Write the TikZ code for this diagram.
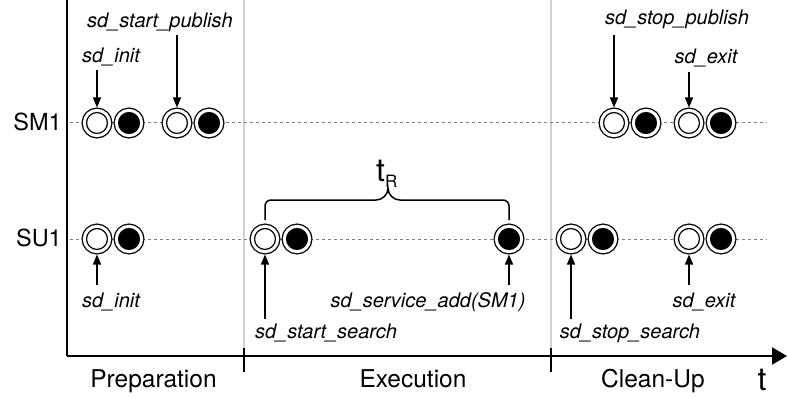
\documentclass[tikz,border=0pt]{standalone}
\usepackage{fontspec}
\setmainfont{TeX Gyre Heros}
\usetikzlibrary{arrows.meta}
\tikzset{
  evt/.style={circle, minimum size=25.4pt, inner sep=0pt, outer sep=2.8pt,
    draw=black, line width=1.3pt, double=white, double distance=3pt},
  evtopen/.style={evt, fill=white},
  evtfull/.style={evt, fill=black},
  rowline/.style={draw=black!50, line width=1pt, dash pattern=on 3pt off 3pt},
  sep/.style={draw=black!18, line width=1.5pt},
  axis/.style={draw=black, line width=2pt},
  tick/.style={draw=black, line width=1.3pt},
  call/.style={draw=black, line width=1.4pt, -{Triangle[length=10pt,width=8pt]}},
  fn/.style={font=\fontsize{20}{22}\selectfont\itshape, inner sep=0pt},
  lane/.style={font=\fontsize{23.5}{26}\selectfont, inner sep=0pt, anchor=east},
  phase/.style={font=\fontsize{24.5}{27}\selectfont, inner sep=0pt, anchor=base},
  brace/.style={draw=black, line width=1.5pt}
}
\begin{document}
\begin{tikzpicture}[x=1pt,y=1pt]
\useasboundingbox (0,0) rectangle (787,397);

% phase separators
\draw[sep] (244,397) -- (244,41);
\draw[sep] (551,397) -- (551,41);

% lane guide lines
\draw[rowline] (70,274) -- (767,274);
\draw[rowline] (70,158) -- (767,158);

% axes
\coordinate (origin) at (67,41);
\coordinate (ytop) at (67,397);
\coordinate (xend) at (787,41);
\draw[axis] (ytop) -- (origin);
\draw[axis, -{Triangle[length=15pt,width=17pt]}] (origin) -- (xend);
\draw[tick] (244,49) -- (244,25);
\draw[tick] (551,49) -- (551,25);

% lane labels
\node[lane] (sm) at (62,275) {SM1};
\node[lane] (su) at (62,159) {SU1};

% phase labels
\node[phase] (prep) at (153.5,10) {Preparation};
\node[phase] (exec) at (413,10) {Execution};
\node[phase] (clean) at (653,10) {Clean-Up};
\node[font=\fontsize{32}{34}\selectfont, inner sep=0pt, anchor=base] (tlab) at (762,7) {t};

% SM1 events
\node[evtopen] (m1o) at (97,274) {};
\node[evtfull] (m1f) at (129,274) {};
\node[evtopen] (m2o) at (177,274) {};
\node[evtfull] (m2f) at (209,274) {};
\node[evtopen] (m3o) at (614,274) {};
\node[evtfull] (m3f) at (646,274) {};
\node[evtopen] (m4o) at (689,274) {};
\node[evtfull] (m4f) at (721,274) {};

% SU1 events
\node[evtopen] (u1o) at (97,158) {};
\node[evtfull] (u1f) at (129,158) {};
\node[evtopen] (u2o) at (265,158) {};
\node[evtfull] (u2f) at (297,158) {};
\node[evtfull] (u3f) at (509,158) {};
\node[evtopen] (u4o) at (571,158) {};
\node[evtfull] (u4f) at (603,158) {};
\node[evtopen] (u5o) at (689,158) {};
\node[evtfull] (u5f) at (721,158) {};

% SM1 calls
\node[fn] (l1) at (111,340) {sd\_init};
\coordinate (a1) at (97,327);
\draw[call] (a1) -- (m1o.north);
\node[fn] (l2) at (160,375) {sd\_start\_publish};
\coordinate (a2) at (177,362);
\draw[call] (a2) -- (m2o.north);
\node[fn] (l3) at (677,378) {sd\_stop\_publish};
\coordinate (a3) at (614,362);
\draw[call] (a3) -- (m3o.north);
\node[fn] (l4) at (706,339) {sd\_exit};
\coordinate (a4) at (689,325);
\draw[call] (a4) -- (m4o.north);

% SU1 calls
\node[fn] (l5) at (111,95) {sd\_init};
\coordinate (a5) at (97,112);
\draw[call] (a5) -- (u1o.south);
\node[fn] (l6) at (326,64) {sd\_start\_search};
\coordinate (a6) at (265,78);
\draw[call] (a6) -- (u2o.south);
\node[fn] (l7) at (428,95) {sd\_service\_add(SM1)};
\coordinate (a7) at (509,112);
\draw[call] (a7) -- (u3f.south);
\node[fn] (l8) at (630,64) {sd\_stop\_search};
\coordinate (a8) at (571,78);
\draw[call] (a8) -- (u4o.south);
\node[fn] (l9) at (704,95) {sd\_exit};
\coordinate (a9) at (689,112);
\draw[call] (a9) -- (u5o.south);

% response time brace
\coordinate (bl) at (265,177);
\coordinate (br) at (509,177);
\draw[brace] (bl) -- (265,191) arc[start angle=180,end angle=90,radius=6]
  -- (376,197) arc[start angle=270,end angle=360,x radius=12,y radius=12]
  arc[start angle=180,end angle=270,x radius=12,y radius=12]
  -- (503,197) arc[start angle=90,end angle=0,radius=6] -- (br);
\node[font=\fontsize{32}{34}\selectfont, inner sep=0pt, anchor=base west] (tr) at (376,215)
  {t\raisebox{-0.3ex}{\fontsize{17}{19}\selectfont R}};
\end{tikzpicture}
\end{document}
